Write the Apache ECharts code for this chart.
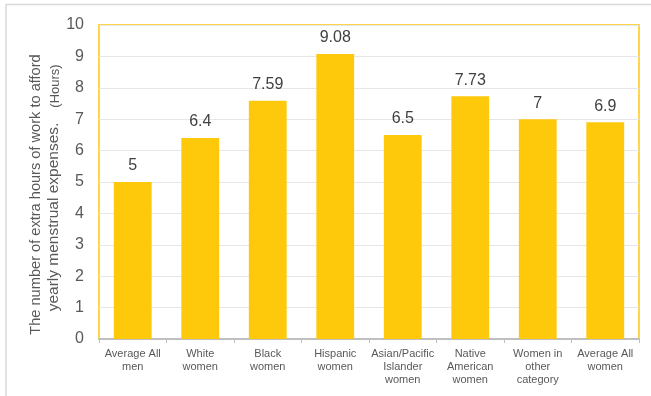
<!DOCTYPE html>
<html><head><meta charset="utf-8">
<script src="https://cdn.jsdelivr.net/npm/echarts@6/dist/echarts.min.js"></script>
<style>html,body{margin:0;padding:0;background:#fff}#c{width:651px;height:396px}</style>
</head><body><div id="c"></div>
<script>
const categories = ['Average All\nmen', 'White\nwomen', 'Black\nwomen', 'Hispanic\nwomen', 'Asian/Pacific\nIslander\nwomen', 'Native\nAmerican\nwomen', 'Women in\nother\ncategory', 'Average All\nwomen'];
const hours = [5, 6.4, 7.59, 9.08, 6.5, 7.73, 7, 6.9];
const yTicks = [0, 1, 2, 3, 4, 5, 6, 7, 8, 9, 10];

const chart = echarts.init(document.getElementById('c'), null, {renderer: 'canvas'});
chart.setOption({
  animation: false,
  backgroundColor: '#fff',
  grid: {left: 99, top: 25, right: 12, bottom: 57, show: true, borderColor: '#FFD54A', borderWidth: 2, backgroundColor: 'transparent'},
  xAxis: {
    type: 'category', data: categories,
    axisLine: {lineStyle: {color: '#BFBFBF', width: 2}},
    axisTick: {show: true, alignWithLabel: false, length: 4, lineStyle: {color: '#BFBFBF'}},
    axisLabel: {color: '#595959', fontSize: 11, fontFamily: 'Liberation Sans', lineHeight: 13, margin: 8, interval: 0}
  },
  yAxis: {
    type: 'value', min: yTicks[0], max: yTicks[yTicks.length - 1], interval: 1,
    axisLine: {show: false}, axisTick: {show: false},
    axisLabel: {color: '#595959', fontSize: 16, fontFamily: 'Liberation Sans', margin: 15},
    splitLine: {lineStyle: {color: '#E6E6E6', width: 1}}
  },
  series: [{
    type: 'bar', data: hours, barWidth: '56%',
    itemStyle: {color: '#FFC90B'},
    label: {show: true, position: 'top', distance: 8, color: '#404040', fontSize: 16, fontFamily: 'Liberation Sans'}
  }],
  graphic: [
    {type: 'polyline', shape: {points: [[6, 400], [6, 4.5], [660, 4.5]]}, style: {stroke: '#D9D9D9', lineWidth: 1.5, fill: null}},
    {type: 'text', x: 36, y: 194.5, rotation: Math.PI / 2,
     style: {text: 'The number of extra hours of work to afford', fill: '#595959', font: '14.6px "Liberation Sans"', align: 'center', verticalAlign: 'middle'}},
    {type: 'text', x: 54, y: 217, rotation: Math.PI / 2,
     style: {text: 'yearly menstrual expenses.', fill: '#595959', font: '15.5px "Liberation Sans"', align: 'center', verticalAlign: 'middle'}},
    {type: 'text', x: 55, y: 86, rotation: Math.PI / 2,
     style: {text: '(Hours)', fill: '#595959', font: '13px "Liberation Sans"', align: 'center', verticalAlign: 'middle'}}
  ]
});
</script></body></html>
